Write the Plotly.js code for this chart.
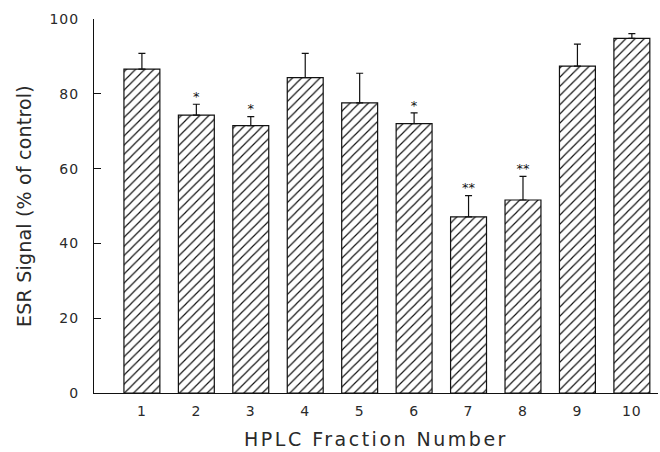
<!DOCTYPE html>
<html>
<head>
<meta charset="utf-8">
<script src="https://cdn.plot.ly/plotly-3.0.1.min.js"></script>
<style>
  html, body { margin: 0; padding: 0; background: #fff; }
  #chart { width: 660px; height: 452px; }
  .xtitle { letter-spacing: 2.5px; }
  .ytitle { letter-spacing: 0.2px; }
  .xtick text, .ytick text { letter-spacing: 1px; }
</style>
</head>
<body>
<div id="chart"></div>
<script>
// HPLC fractions and ESR signal (% of control), mean with upper SEM
const fractions = [1, 2, 3, 4, 5, 6, 7, 8, 9, 10];
const esrMean = [86.6, 74.3, 71.5, 84.3, 77.6, 72.0, 47.1, 51.6, 87.4, 94.8];
const esrSem = [4.2, 2.9, 2.4, 6.5, 7.9, 2.9, 5.7, 6.3, 5.9, 1.3];
const significance = ["", "*", "*", "", "", "*", "**", "**", "", ""];
const yTicks = [0, 20, 40, 60, 80, 100];

const ink = "#111";
const textInk = "#2a2a2a";
const font = "DejaVu Sans, Verdana, sans-serif";

const bars = {
  type: "bar",
  x: fractions,
  y: esrMean,
  marker: {
    color: "white",
    line: { color: ink, width: 1.2 },
    pattern: { shape: "/", fgcolor: ink, bgcolor: "white", size: 6.5, solidity: 0.18 }
  },
  error_y: {
    type: "data",
    symmetric: false,
    array: esrSem,
    arrayminus: esrSem.map(() => 0),
    color: ink,
    thickness: 1.2,
    width: 3.5
  },
  hoverinfo: "x+y"
};

// significance markers sit just above each error bar
const stars = {
  type: "scatter",
  mode: "text",
  x: fractions,
  y: esrMean.map((m, i) => m + esrSem[i]),
  text: significance,
  textposition: "top center",
  textfont: { family: font, size: 13, color: ink },
  hoverinfo: "skip"
};

const layout = {
  width: 660,
  height: 452,
  margin: { l: 94, r: 2, t: 19, b: 59, pad: 0 },
  paper_bgcolor: "white",
  plot_bgcolor: "white",
  showlegend: false,
  bargap: 0.34,
  font: { family: font, color: textInk },
  xaxis: {
    range: [0.12, 10.48],
    tickvals: fractions,
    ticktext: fractions.map(String),
    ticks: "",
    showgrid: false,
    zeroline: false,
    showline: true,
    linecolor: ink,
    linewidth: 1,
    tickfont: { family: font, size: 14, color: textInk },
    ticklabelstandoff: 5,
    automargin: false,
    title: { text: "HPLC Fraction Number", font: { family: font, size: 19, color: textInk }, standoff: 14 }
  },
  yaxis: {
    range: [0, 100],
    tickvals: yTicks,
    ticks: "inside",
    ticklen: 7,
    tickcolor: ink,
    tickwidth: 1,
    showgrid: false,
    zeroline: false,
    showline: true,
    linecolor: ink,
    linewidth: 1,
    tickfont: { family: font, size: 14, color: textInk },
    ticklabelstandoff: 11,
    automargin: false,
    title: { text: "ESR Signal (% of control)", font: { family: font, size: 19, color: textInk }, standoff: 12 }
  }
};

Plotly.newPlot("chart", [bars, stars], layout, { displayModeBar: false, staticPlot: true });
</script>
</body>
</html>
